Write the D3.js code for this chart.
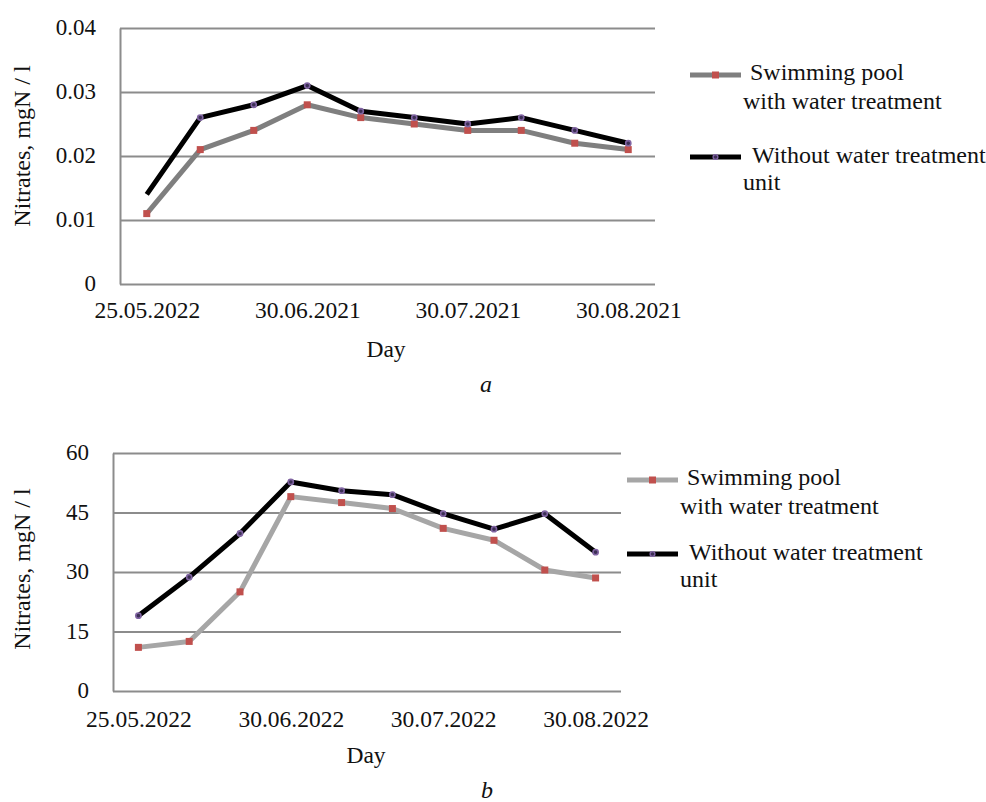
<!DOCTYPE html>
<html>
<head>
    <meta charset="utf-8">
    <title>Nitrates</title>
    <style>
        body {
            margin: 0;
            background: #fff;
        }
        svg text {
            font-family: "Liberation Serif", "Times New Roman", serif;
            fill: #111;
        }
    </style>
</head>
<body>
    <svg id="chart" width="986" height="802"></svg>

    <script src="https://cdn.jsdelivr.net/npm/d3@7/dist/d3.min.js"></script>
    <script>
        // days sampled (10 points), only some carry a label
        var dayIndex = [0, 1, 2, 3, 4, 5, 6, 7, 8, 9];
        var tickIndex = [0, 3, 6, 9];

        // chart a
        var aTickLabels = ["25.05.2022", "30.06.2021", "30.07.2021", "30.08.2021"];
        var aYTicks = [0, 0.01, 0.02, 0.03, 0.04];
        var aPool = [0.011, 0.021, 0.024, 0.028, 0.026, 0.025, 0.024, 0.024, 0.022, 0.021];
        var aNoUnit = [0.014, 0.026, 0.028, 0.031, 0.027, 0.026, 0.025, 0.026, 0.024, 0.022];

        // chart b
        var bTickLabels = ["25.05.2022", "30.06.2022", "30.07.2022", "30.08.2022"];
        var bYTicks = [0, 15, 30, 45, 60];
        var bPool = [11, 12.5, 25, 49, 47.5, 46, 41, 38, 30.5, 28.5];
        var bNoUnit = [19, 28.7, 39.7, 52.7, 50.5, 49.5, 44.7, 40.8, 44.7, 35];

        var seriesNames = ["Swimming pool", "with water treatment", "Without water treatment", "unit"];

        var svg = d3.select("#chart");

        function drawChart(cfg) {
            var g = svg.append("g");

            var x = d3.scalePoint()
                .domain(dayIndex)
                .range([cfg.left, cfg.right])
                .padding(0.5);

            var y = d3.scaleLinear()
                .domain([0, d3.max(cfg.yTicks)])
                .range([cfg.bottom, cfg.top]);

            //grid + y labels
            var yAxis = g.append("g")
                .attr("transform", "translate(" + cfg.left + ",0)")
                .call(d3.axisLeft(y)
                    .tickValues(cfg.yTicks)
                    .tickFormat(cfg.yFormat)
                    .tickSize(-(cfg.right - cfg.left))
                    .tickSizeOuter(0)
                    .tickPadding(24));
            yAxis.selectAll("line").attr("stroke", "#8c8c8c").attr("stroke-width", 2);
            yAxis.select(".domain").attr("stroke", "#8c8c8c").attr("stroke-width", 2);
            yAxis.selectAll("text")
                .attr("font-size", 23)
                .attr("dy", "0.3em");

            //x labels
            var xAxis = g.append("g")
                .attr("transform", "translate(0," + cfg.bottom + ")")
                .call(d3.axisBottom(x)
                    .tickValues(tickIndex)
                    .tickSize(0)
                    .tickFormat(function (d) { return cfg.tickLabels[tickIndex.indexOf(d)]; }));
            xAxis.select(".domain").remove();
            xAxis.selectAll("text")
                .attr("font-size", 23.5)
                .attr("y", cfg.xLabelOffset)
                .attr("dy", 0);

            //titles
            g.append("text")
                .attr("transform", "translate(" + cfg.yTitleX + "," + cfg.yTitleY + ") rotate(-90)")
                .attr("text-anchor", "middle")
                .attr("font-size", 24)
                .text("Nitrates, mgN / l");

            g.append("text")
                .attr("x", cfg.dayX)
                .attr("y", cfg.dayY)
                .attr("text-anchor", "middle")
                .attr("font-size", 23.5)
                .text("Day");

            g.append("text")
                .attr("x", cfg.capX)
                .attr("y", cfg.capY)
                .attr("text-anchor", "middle")
                .attr("font-size", 24)
                .attr("font-style", "italic")
                .text(cfg.caption);

            var line = d3.line()
                .x(function (d, i) { return x(dayIndex[i]); })
                .y(function (d) { return y(d); });

            g.append("path")
                .datum(cfg.pool)
                .attr("fill", "none")
                .attr("stroke", cfg.poolColor)
                .attr("stroke-width", 5)
                .attr("stroke-linejoin", "round")
                .attr("d", line);

            g.append("path")
                .datum(cfg.noUnit)
                .attr("fill", "none")
                .attr("stroke", "#000")
                .attr("stroke-width", 5)
                .attr("stroke-linejoin", "round")
                .attr("d", line);

            g.selectAll(".sq")
                .data(cfg.pool)
                .enter().append("rect")
                .attr("x", function (d, i) { return x(dayIndex[i]) - 3.5; })
                .attr("y", function (d) { return y(d) - 3.5; })
                .attr("width", 7)
                .attr("height", 7)
                .attr("fill", "#c0504d");

            // first black point has no marker in chart a
            var dots = cfg.noUnit.map(function (v, i) { return { day: dayIndex[i], v: v }; })
                .filter(function (d, i) { return cfg.firstDot || i > 0; });

            g.selectAll(".dot")
                .data(dots)
                .enter().append("circle")
                .attr("cx", function (d) { return x(d.day); })
                .attr("cy", function (d) { return y(d.v); })
                .attr("r", 2.6)
                .attr("fill", "#3c2f55")
                .attr("stroke", "#8064a2")
                .attr("stroke-width", 1.6);

            //legend
            var lg = g.append("g").attr("transform", "translate(" + cfg.legX + "," + cfg.legY + ")");

            lg.append("line").attr("x1", 0).attr("x2", 51).attr("y1", 0).attr("y2", 0)
                .attr("stroke", cfg.poolColor).attr("stroke-width", 5);
            lg.append("rect").attr("x", 22).attr("y", -3.5).attr("width", 7).attr("height", 7)
                .attr("fill", "#c0504d");
            lg.append("text").attr("x", 60).attr("y", 5).attr("font-size", 24).text(seriesNames[0]);
            lg.append("text").attr("x", 53).attr("y", 34).attr("font-size", 24).text(seriesNames[1]);

            lg.append("line").attr("x1", 0).attr("x2", 51).attr("y1", cfg.legGap).attr("y2", cfg.legGap)
                .attr("stroke", "#000").attr("stroke-width", 5);
            lg.append("circle").attr("cx", 25.5).attr("cy", cfg.legGap).attr("r", 2.4)
                .attr("fill", "#3c2f55").attr("stroke", "#8064a2").attr("stroke-width", 1.4);
            lg.append("text").attr("x", 62).attr("y", cfg.legGap + 6).attr("font-size", 24).text(seriesNames[2]);
            lg.append("text").attr("x", 53).attr("y", cfg.legGap + 33).attr("font-size", 24).text(seriesNames[3]);
        }

        drawChart({
            left: 120, right: 655, top: 28, bottom: 284,
            yTicks: aYTicks, yFormat: function (d) { return d === 0 ? "0" : d3.format(".2f")(d); },
            tickLabels: aTickLabels, xLabelOffset: 34,
            pool: aPool, noUnit: aNoUnit, poolColor: "#7f7f7f", firstDot: false,
            yTitleX: 30, yTitleY: 146,
            dayX: 386, dayY: 357, capX: 486, capY: 392, caption: "a",
            legX: 690, legY: 75, legGap: 82
        });

        drawChart({
            left: 113, right: 621, top: 453, bottom: 691,
            yTicks: bYTicks, yFormat: d3.format("d"),
            tickLabels: bTickLabels, xLabelOffset: 36,
            pool: bPool, noUnit: bNoUnit, poolColor: "#a6a6a6", firstDot: true,
            yTitleX: 30, yTitleY: 569,
            dayX: 366, dayY: 763, capX: 487, capY: 798, caption: "b",
            legX: 627, legY: 480, legGap: 74
        });
    </script>
</body>
</html>
